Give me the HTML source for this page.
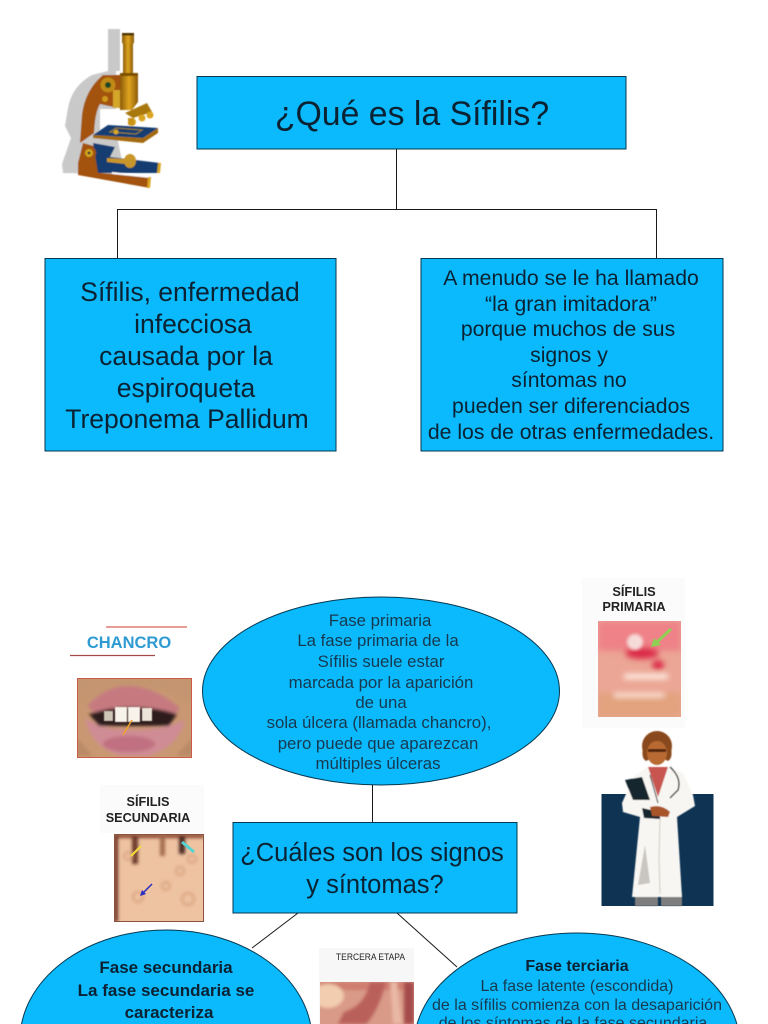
<!DOCTYPE html>
<html lang="es">
<head>
<meta charset="utf-8">
<title>Sífilis</title>
<style>
html,body{margin:0;padding:0;background:#fff;width:768px;height:1024px;overflow:hidden}
svg{display:block}
text{font-family:"Liberation Sans",sans-serif;fill:#0b2233;text-anchor:middle}
.b{font-weight:bold}
</style>
</head>
<body>
<svg width="768" height="1024" viewBox="0 0 768 1024" xmlns="http://www.w3.org/2000/svg">
<defs>
<filter id="bl" x="-10%" y="-10%" width="120%" height="120%"><feGaussianBlur stdDeviation="1.6"/></filter>
<filter id="bl2" x="-20%" y="-20%" width="140%" height="140%"><feGaussianBlur stdDeviation="3"/></filter>
<filter id="s" x="-5%" y="-5%" width="110%" height="110%"><feGaussianBlur stdDeviation="0.4"/></filter>
<linearGradient id="tube" x1="0" x2="1" y1="0" y2="0"><stop offset="0" stop-color="#8a5a08"/><stop offset=".5" stop-color="#e0a520"/><stop offset="1" stop-color="#8a5a08"/></linearGradient>
</defs>
<rect width="768" height="1024" fill="#fff"/>

<!-- connectors -->
<g stroke="#1a1a1a" stroke-width="1" fill="none">
<path d="M396.5 149V209.5M117.5 258V209.5H656.5V258"/>
<path d="M372.5 785V822"/>
<path d="M298 913L252 948M397 913L457 967"/>
</g>

<!-- boxes -->
<g fill="#0bb9fd" stroke="#06384f" stroke-width="1">
<rect x="197" y="76.500" width="429" height="72.500"/>
<rect x="45" y="258.500" width="291" height="192.500"/>
<rect x="421" y="258.500" width="302" height="192.500"/>
<ellipse cx="381" cy="691" rx="178.500" ry="94"/>
<rect x="233" y="822.500" width="284" height="90.500"/>
<ellipse cx="166" cy="1040" rx="146" ry="110"/>
<ellipse cx="577" cy="1046" rx="163" ry="113"/>
</g>

<!-- box text -->
<text x="412" y="125" font-size="33.800">¿Qué es la Sífilis?</text>

<g font-size="26.500">
<text x="190" y="301">Sífilis, enfermedad</text>
<text x="193" y="333">infecciosa</text>
<text x="186" y="365">causada por la</text>
<text x="186" y="397">espiroqueta</text>
<text x="187" y="428">Treponema Pallidum</text>
</g>

<g font-size="21.200">
<text x="571" y="285">A menudo se le ha llamado</text>
<text x="571" y="311">“la gran imitadora”</text>
<text x="568" y="336">porque muchos de sus</text>
<text x="569" y="362">signos y</text>
<text x="569" y="387">síntomas no</text>
<text x="571" y="413">pueden ser diferenciados</text>
<text x="571" y="439">de los de otras enfermedades.</text>
</g>

<g font-size="16.800" style="--c:1">
<text x="380" y="626" style="fill:#17394f">Fase primaria</text>
<text x="378" y="646" style="fill:#17394f">La fase primaria de la</text>
<text x="381" y="667" style="fill:#17394f">Sífilis suele estar</text>
<text x="381" y="688" style="fill:#17394f">marcada por la aparición</text>
<text x="381" y="708" style="fill:#17394f">de una</text>
<text x="379" y="728" style="fill:#17394f">sola úlcera (llamada chancro),</text>
<text x="378" y="749" style="fill:#17394f">pero puede que aparezcan</text>
<text x="378" y="769" style="fill:#17394f">múltiples úlceras</text>
</g>

<g font-size="25.500">
<text x="372" y="861">¿Cuáles son los signos</text>
<text x="375" y="893">y síntomas?</text>
</g>

<g font-size="17" class="b">
<text x="166" y="973">Fase secundaria</text>
<text x="166" y="996">La fase secundaria se</text>
<text x="169" y="1018">caracteriza</text>
</g>

<g font-size="16">
<text x="577" y="971" class="b">Fase terciaria</text>
<text x="577" y="991" style="fill:#17394f">La fase latente (escondida)</text>
<text x="577" y="1010" style="fill:#17394f">de la sífilis comienza con la desaparición</text>
<text x="573" y="1028" style="fill:#17394f">de los síntomas de la fase secundaria</text>
</g>

<!-- microscope -->
<g filter="url(#s)">
<path d="M108 29h12v42h-4v38h-16v24h18v8l5 25-8 8-52-1-1-9 9-26-6-12 3-18q4-22 24-33l16-4z" fill="#c9c9c9"/>
<path d="M103 75H120V100L118 108 100 104Q95 112 94 133L80 143 82 115Q85 90 103 75z" fill="#a3520f"/>
<path d="M78 163L83 143 97 147 100 173 150 177V188L78 175z" fill="#a3520f"/>
<path d="M93 143L115 147 110 157 160 163V173L98 173z" fill="#123d72"/>
<path d="M112 172l38 4v2l-38-4z" fill="#fff"/>
<path d="M93 138L143 143 158 133V128L143 138 93 135z" fill="#a3690f"/>
<path d="M108 125L158 128 143 138 93 135z" fill="#123d72"/>
<path d="M116 128l26 2-6 4-26-2z" fill="none" stroke="#a08420" stroke-width="1"/>
<circle cx="116" cy="132" r="2.500" fill="#d9a520"/>
<rect x="113" y="90" width="8" height="18" fill="#d4a62a"/>
<rect x="123" y="43" width="10" height="30" fill="url(#tube)"/>
<rect x="122" y="34" width="12" height="10" rx="2" fill="url(#tube)"/>
<rect x="122" y="33" width="12" height="2.500" fill="#4a3205"/>
<rect x="120" y="73" width="18" height="3" fill="#7a5006"/>
<path d="M120 76H138V102L132 110H120z" fill="url(#tube)"/>
<path d="M125 113L147 103 152 112 133 118z" fill="#a9780f"/>
<circle cx="132" cy="122" r="4" fill="#d9a520"/><circle cx="142" cy="118" r="3.500" fill="#d9a520"/><circle cx="150" cy="115" r="3.500" fill="#d9a520"/>
<rect x="128" y="118" width="6" height="7" fill="#c99316"/>
<circle cx="108" cy="85" r="7.500" fill="#c08a18"/><circle cx="108" cy="85" r="3" fill="#1d4a20"/>
<circle cx="105" cy="99" r="3" fill="#cf9a1e"/>
<circle cx="89" cy="153" r="7" fill="#a3520f"/><circle cx="89" cy="153" r="4" fill="#d2a41e"/><circle cx="89" cy="153" r="1.400" fill="#333"/>
<path d="M107 158L125 159V164L107 162z" fill="#c9962a"/>
<ellipse cx="130" cy="161" rx="6" ry="7" fill="#c9962a"/>
<path d="M158 163l3 0-1 10-3 0z" fill="#d9a520"/>
<path d="M148 177l3 0-1 11-3 0z" fill="#d9a520"/>
</g>

<!-- chancro -->
<path d="M106 627H187" stroke="#d9635a" stroke-width="1.300"/>
<path d="M70 655.500H155" stroke="#a6494a" stroke-width="1.300"/>
<text x="129" y="648" font-size="16.500" class="b" style="fill:#2f9bd2">CHANCRO</text>
<svg x="77" y="678" width="115" height="80" viewBox="0 0 115 80">
<rect width="115" height="80" fill="#c99872"/>
<g filter="url(#bl)">
<path d="M0 0h115v28L85 12 55 8 30 12 0 28z" fill="#c49570"/>
<path d="M10 28Q30 6 55 8t48 22l-6 8-78-2z" fill="#c67a80"/>
<path d="M12 36Q55 22 100 36L92 48H22z" fill="#2e1c1a"/>
<path d="M8 40Q14 70 45 78H72Q102 68 108 42L92 48Q55 56 22 48z" fill="#cf8c94"/>
<ellipse cx="52" cy="66" rx="26" ry="8" fill="#c06f80"/>
<path d="M0 60L16 78H0zM115 60L99 78h16z" fill="#ba8a66"/>
</g>
<g filter="url(#s)">
<rect x="38" y="29" width="12" height="15" fill="#f7f3ea"/><rect x="51" y="29" width="12" height="15" fill="#f7f3ea"/><rect x="65" y="30" width="10" height="13" fill="#ece5d8"/><rect x="27" y="33" width="9" height="10" fill="#cfc6b8"/>
</g>
<path d="M55 42L46 57" stroke="#efa22c" stroke-width="1.500"/>
<rect x=".5" y=".5" width="114" height="79" fill="none" stroke="#cb5a48"/>
</svg>

<!-- sifilis primaria -->
<rect x="582" y="578" width="103" height="150" fill="#fbfbfb"/>
<text x="634" y="596" font-size="12.800" class="b" style="fill:#222">SÍFILIS</text>
<text x="634" y="611" font-size="12.800" class="b" style="fill:#222">PRIMARIA</text>
<svg x="598" y="621" width="83" height="96" viewBox="0 0 83 96">
<rect width="83" height="96" fill="#eba695"/>
<g filter="url(#bl2)">
<rect width="83" height="30" fill="#ee8288"/>
<rect y="72" width="83" height="24" fill="#e2a37e"/>
<ellipse cx="44" cy="32" rx="17" ry="6" fill="#dc2a48"/>
<ellipse cx="60" cy="44" rx="6" ry="5" fill="#dc2a48"/>
<rect x="26" y="53" width="44" height="5" fill="#fff0e6"/>
<rect x="16" y="72" width="50" height="4" fill="#fde6d8"/>
</g>
<ellipse cx="37" cy="21" rx="8" ry="8" fill="#f6dcd8" filter="url(#bl)"/>
<path d="M73 8L58 22" stroke="#8fcf52" stroke-width="3"/>
<path d="M53 26l3-9 7 7z" fill="#8fcf52"/>
</svg>

<!-- doctor -->
<rect x="601.500" y="794" width="112" height="112" fill="#0e3353"/>
<g filter="url(#s)">
<rect x="635" y="893" width="23" height="13" fill="#7d7d7d"/><rect x="661" y="893" width="21" height="13" fill="#7d7d7d"/>
<path d="M648 767L634 776 622 803 623 812 640 817 632 897H682L677 817 695 806 693 795 683 773 668 767z" fill="#f8f6f2"/>
<path d="M648 767H668L658 797z" fill="#c8554f"/>
<path d="M660 818l-1 40 1 36" stroke="#cfcbc5" stroke-width="1" fill="none"/>
<path d="M645 845l-7 40 12-2z" fill="#c9c6c2"/>
<path d="M670 767Q682 778 678 790L670 798" stroke="#444" stroke-width="1.500" fill="none"/>
<path d="M650 775l8 28" stroke="#222" stroke-width="1" fill="none"/>
<path d="M625 780L642 777 650 800 633 800z" fill="#13262f"/>
<path d="M642 808L660 812V819L644 818z" fill="#13262f"/>
<path d="M650 807Q662 804 670 812L668 817 652 816z" fill="#a9552c"/>
<ellipse cx="657" cy="746" rx="15" ry="15" fill="#8a4a1b"/>
<path d="M643 748q-2 10 3 13l4-2v-10zM671 748q2 10-3 13l-4-2v-10z" fill="#8a4a1b"/>
<ellipse cx="657" cy="753" rx="10" ry="12" fill="#b86a33"/>
<path d="M648 749h18v3h-18z" fill="#51240f"/>
</g>

<!-- sifilis secundaria -->
<rect x="100" y="785" width="104" height="48" fill="#fbfbfb"/>
<text x="148" y="806" font-size="12.700" class="b" style="fill:#222">SÍFILIS</text>
<text x="148" y="822" font-size="12.700" class="b" style="fill:#222">SECUNDARIA</text>
<svg x="114" y="834" width="90" height="88" viewBox="0 0 90 88">
<rect width="90" height="88" fill="#eec3a2"/>
<g filter="url(#bl)">
<rect width="90" height="4" fill="#8a4a30"/>
<rect width="4" height="88" fill="#6a3020"/>
<rect x="18" y="2" width="6" height="28" fill="#6d3b2a"/>
<rect x="46" y="2" width="5" height="20" fill="#a36a50"/>
<rect x="65" y="2" width="6" height="18" fill="#4c2a20"/>
<g fill="none" stroke="#d9a07c" stroke-width="2">
<circle cx="66" cy="37" r="4"/><circle cx="24" cy="63" r="5"/><circle cx="52" cy="52" r="4"/><circle cx="74" cy="65" r="6"/><circle cx="14" cy="22" r="4"/><circle cx="78" cy="25" r="4"/>
</g>
</g>
<path d="M38 50L28 60" stroke="#2a2ec0" stroke-width="1.500"/>
<path d="M26 62l2-6 4 4z" fill="#2a2ec0"/>
<path d="M27 12L17 22" stroke="#f3dc3c" stroke-width="2"/>
<path d="M68 8l12 10" stroke="#55d4d0" stroke-width="3"/>
<rect x=".5" y=".5" width="89" height="87" fill="none" stroke="#8a5040"/>
</svg>

<!-- tercera etapa -->
<rect x="319" y="948" width="95" height="76" fill="#f7f7f7"/>
<text x="370.500" y="960" font-size="9.500" textLength="69" lengthAdjust="spacingAndGlyphs" style="fill:#222">TERCERA ETAPA</text>
<svg x="320" y="982" width="94" height="42" viewBox="0 0 94 42">
<rect width="94" height="42" fill="#d99a88"/>
<g filter="url(#bl)">
<rect width="94" height="8" fill="#cf7e70"/>
<ellipse cx="8" cy="14" rx="16" ry="12" fill="#f2cdb0"/>
<path d="M24 30Q45 24 50 0h16Q58 30 46 42H18z" fill="#b9615a"/>
<path d="M70 0h7l5 42h-9z" fill="#e9b8a4"/>
<rect x="84" width="10" height="42" fill="#a54c4c"/>
</g>
</svg>
</svg>
</body>
</html>
